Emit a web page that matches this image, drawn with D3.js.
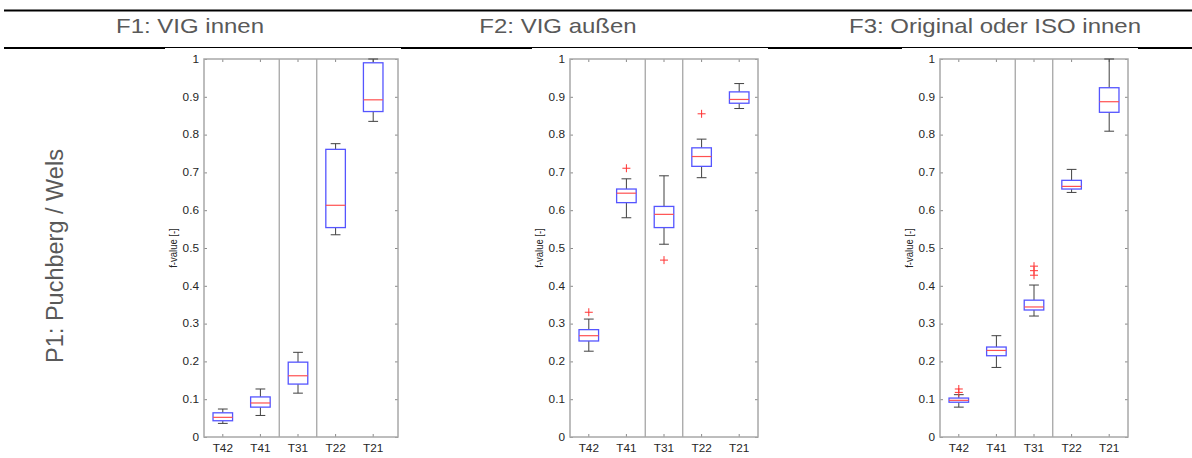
<!DOCTYPE html>
<html>
<head>
<meta charset="utf-8">
<script src="https://cdn.jsdelivr.net/npm/d3@7"></script>
<style>
  body { margin: 0; background: #fff; }
  svg { display: block; font-family: "Liberation Sans", Arial, sans-serif; }
</style>
</head>
<body>
<svg id="chart" width="1192" height="458"></svg>
<script>
// categories on every x axis
const categories = ["T42", "T41", "T31", "T22", "T21"];
const yTicks = [0, 0.1, 0.2, 0.3, 0.4, 0.5, 0.6, 0.7, 0.8, 0.9, 1];
const columnTitles = ["F1: VIG innen", "F2: VIG außen", "F3: Original oder ISO innen"];
const rowTitle = "P1: Puchberg / Wels";
const yLabel = "f-value [-]";

// [lower whisker, q1, median, q3, upper whisker] per category
const f1Box = [
  [0.036, 0.043, 0.052, 0.064, 0.074],
  [0.057, 0.079, 0.090, 0.106, 0.127],
  [0.116, 0.140, 0.162, 0.198, 0.224],
  [0.535, 0.554, 0.613, 0.761, 0.776],
  [0.835, 0.861, 0.892, 0.990, 1.000]
];
const f1Outliers = [[], [], [], [], []];

const f2Box = [
  [0.227, 0.254, 0.268, 0.284, 0.312],
  [0.580, 0.620, 0.645, 0.656, 0.683],
  [0.510, 0.554, 0.589, 0.610, 0.691],
  [0.686, 0.716, 0.742, 0.765, 0.788],
  [0.869, 0.883, 0.893, 0.913, 0.935]
];
const f2Outliers = [[0.330], [0.711], [0.468], [0.855], []];

const f3Box = [
  [0.079, 0.092, 0.097, 0.103, 0.112],
  [0.184, 0.215, 0.229, 0.238, 0.268],
  [0.320, 0.336, 0.344, 0.362, 0.402],
  [0.647, 0.656, 0.663, 0.679, 0.708],
  [0.809, 0.859, 0.887, 0.924, 1.000]
];
const f3Outliers = [[0.118, 0.127], [], [0.428, 0.440, 0.452], [], []];

// left = y axis, frameRight = right edge of the axes box
const panels = [
  { box: f1Box, outliers: f1Outliers, left: 204, frameRight: 398, img: [165, 401], titleX: 190 },
  { box: f2Box, outliers: f2Outliers, left: 570, frameRight: 758, img: [532, 768], titleX: 558 },
  { box: f3Box, outliers: f3Outliers, left: 940, frameRight: 1128, img: [902, 1138], titleX: 995 }
];

const TOP = 59, BOTTOM = 437;
const GROUP_W = 188;
const STRETCH = 1.18; // source picture is a little wider than tall
const svg = d3.select("#chart");

// header rules
svg.append("line").attr("x1", 4).attr("x2", 1192).attr("y1", 10.5).attr("y2", 10.5)
  .attr("stroke", "#000").attr("stroke-width", 2);
svg.append("line").attr("x1", 4).attr("x2", 1192).attr("y1", 48).attr("y2", 48)
  .attr("stroke", "#000").attr("stroke-width", 2);

svg.selectAll(".coltitle")
  .data(panels)
  .enter().append("text")
  .attr("class", "coltitle")
  .attr("transform", (d) => "translate(" + d.titleX + ",33) scale(1.2,1)")
  .attr("text-anchor", "middle")
  .attr("fill", "#595959")
  .style("font-size", "20px")
  .text((d, i) => columnTitles[i]);

svg.append("text")
  .attr("transform", "translate(63,256) rotate(-90)")
  .attr("text-anchor", "middle")
  .attr("fill", "#595959")
  .style("font-size", "23.5px")
  .text(rowTitle);

function stretchText(sel) {
  sel.each(function() {
    const t = d3.select(this);
    const tx = +t.attr("x") || 0;
    t.attr("x", 0).attr("transform", "translate(" + tx + ",0) scale(" + STRETCH + ",1)");
  });
}

panels.forEach(function(p) {
  // white picture background covering lower half of rule
  svg.append("rect").attr("x", p.img[0]).attr("y", 48).attr("width", p.img[1] - p.img[0])
    .attr("height", 410).attr("fill", "#fff");

  const x = d3.scaleBand().domain(categories).range([p.left, p.left + GROUP_W]);
  const y = d3.scaleLinear().domain([0, 1]).range([BOTTOM, TOP]);
  const bw = x.bandwidth();
  const g = svg.append("g");

  // separators: T41 | T31 | T22
  [2, 3].forEach(function(i) {
    const sx = x(categories[i]);
    g.append("line").attr("x1", sx).attr("x2", sx).attr("y1", TOP).attr("y2", BOTTOM)
      .attr("stroke", "#8a8a8a").attr("stroke-width", 1);
  });

  // axes (ticks pointing inward)
  const left = g.append("g").attr("transform", "translate(" + p.left + ",0)")
    .call(d3.axisLeft(y).tickValues(yTicks).tickSize(-3).tickPadding(5).tickFormat(d3.format("~g")));
  const right = g.append("g").attr("transform", "translate(" + p.frameRight + ",0)")
    .call(d3.axisRight(y).tickValues(yTicks).tickSize(-3).tickFormat(""));
  const bottom = g.append("g").attr("transform", "translate(0," + BOTTOM + ")")
    .call(d3.axisBottom(x).tickSize(-3).tickPadding(8));
  const top = g.append("g").attr("transform", "translate(0," + TOP + ")")
    .call(d3.axisTop(x).tickSize(-3).tickFormat(""));
  [left, right, bottom, top].forEach(function(a) {
    a.select(".domain").remove();
    a.selectAll(".tick line").attr("stroke", "#8a8a8a");
    a.selectAll("text").attr("fill", "#262626").style("font-size", "10px")
      .style("font-family", "Liberation Sans, Arial, sans-serif")
      .call(stretchText);
  });

  // frame
  g.append("rect").attr("x", p.left).attr("y", TOP).attr("width", p.frameRight - p.left)
    .attr("height", BOTTOM - TOP).attr("fill", "none").attr("stroke", "#a8a8a8").attr("stroke-width", 1.5);

  g.append("text")
    .attr("transform", "translate(" + (p.left - 27) + "," + ((TOP + BOTTOM) / 2) + ") rotate(-90) scale(1,1.1)")
    .attr("text-anchor", "middle").attr("fill", "#262626").style("font-size", "9.5px")
    .text(yLabel);

  const boxes = g.selectAll(".bx").data(p.box).enter().append("g").attr("class", "bx")
    .attr("transform", (d, i) => "translate(" + (x(categories[i]) + bw / 2) + ",0)");
  const half = bw * 0.26, cap = bw * 0.13;

  // whiskers
  boxes.append("line").attr("y1", (d) => y(d[4])).attr("y2", (d) => y(d[3]))
    .attr("stroke", "#404040").attr("stroke-width", 1);
  boxes.append("line").attr("y1", (d) => y(d[0])).attr("y2", (d) => y(d[1]))
    .attr("stroke", "#404040").attr("stroke-width", 1);
  boxes.append("line").attr("x1", -cap).attr("x2", cap).attr("y1", (d) => y(d[4])).attr("y2", (d) => y(d[4]))
    .attr("stroke", "#404040");
  boxes.append("line").attr("x1", -cap).attr("x2", cap).attr("y1", (d) => y(d[0])).attr("y2", (d) => y(d[0]))
    .attr("stroke", "#404040");
  // box
  boxes.append("rect").attr("x", -half).attr("width", 2 * half)
    .attr("y", (d) => y(d[3])).attr("height", (d) => y(d[1]) - y(d[3]))
    .attr("fill", "#fff").attr("stroke", "#5555ff").attr("stroke-width", 1.3);
  // median
  boxes.append("line").attr("x1", -half).attr("x2", half)
    .attr("y1", (d) => y(d[2])).attr("y2", (d) => y(d[2]))
    .attr("stroke", "#ff5050").attr("stroke-width", 1.2);

  // outliers
  p.outliers.forEach(function(list, i) {
    const cx = x(categories[i]) + bw / 2;
    list.forEach(function(v) {
      g.append("path").attr("d", "M" + (cx - 4) + "," + y(v) + "h8M" + cx + "," + (y(v) - 4) + "v8")
        .attr("stroke", "#ff3333").attr("stroke-width", 1).attr("fill", "none");
    });
  });
});
</script>
</body>
</html>
